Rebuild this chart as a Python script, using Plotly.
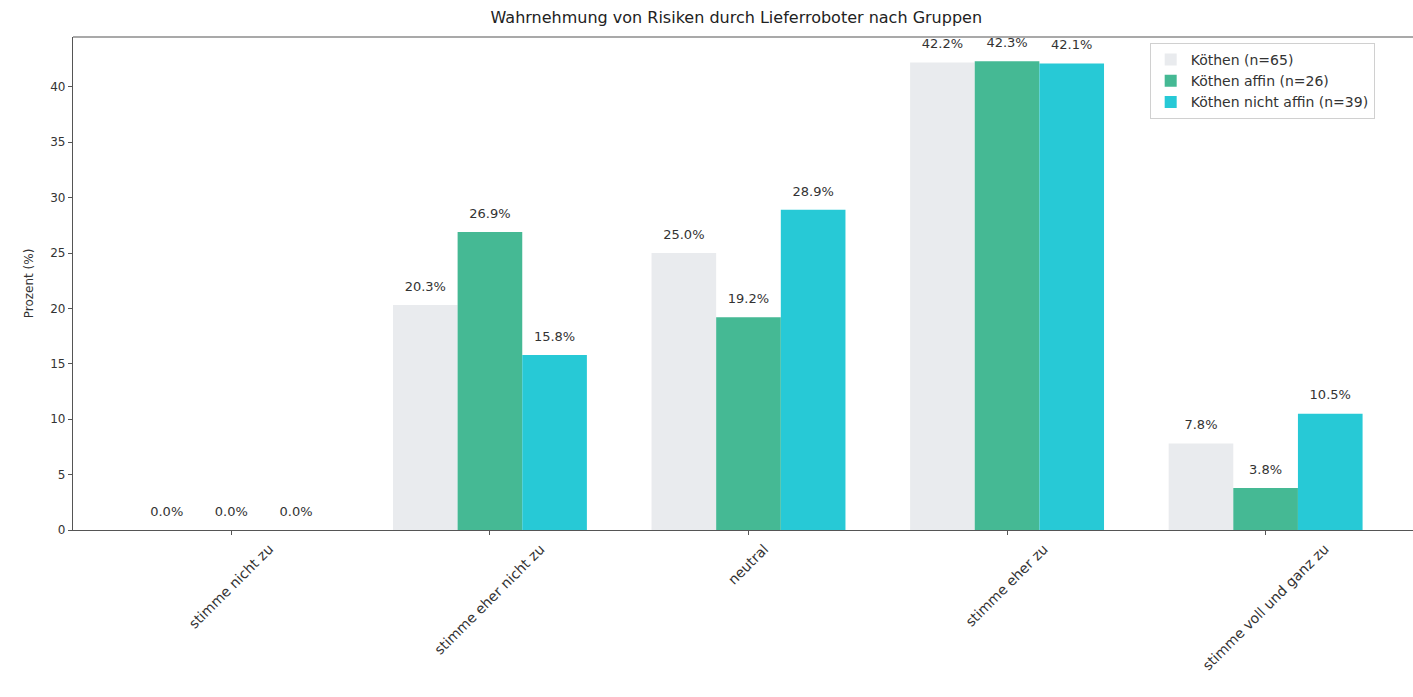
import plotly.graph_objects as go

categories = ["stimme nicht zu", "stimme eher nicht zu", "neutral", "stimme eher zu", "stimme voll und ganz zu"]
groups = ["Köthen (n=65)", "Köthen affin (n=26)", "Köthen nicht affin (n=39)"]
koethen = [0.0, 20.3, 25.0, 42.2, 7.8]
affin = [0.0, 26.9, 19.2, 42.3, 3.8]
nicht_affin = [0.0, 15.8, 28.9, 42.1, 10.5]
y_ticks = [0, 5, 10, 15, 20, 25, 30, 35, 40]

series = [koethen, affin, nicht_affin]
colors = ["#e9ebee", "#45b994", "#27c9d6"]
offsets = [-0.25, 0.0, 0.25]
width = 0.25
FONT = "DejaVu Sans"
TXT = "#333333"

fig = go.Figure()
idx = list(range(len(categories)))
for name, vals, col, off in zip(groups, series, colors, offsets):
    xs = [i + off for i in idx]
    fig.add_trace(go.Bar(x=xs, y=vals, width=width, name=name,
                         marker=dict(color=col, line=dict(width=0))))
for vals, off in zip(series, offsets):
    xs = [i + off for i in idx]
    fig.add_trace(go.Scatter(x=xs, y=[v + 1 for v in vals], mode="text",
                             text=[f"{v:.1f}%" for v in vals],
                             textposition="top center",
                             textfont=dict(family=FONT, size=13, color=TXT),
                             showlegend=False, hoverinfo="skip"))

for i, c in enumerate(categories):
    fig.add_annotation(x=i, y=0, xref="x", yref="paper", text=c, textangle=-45,
                       showarrow=False, xanchor="center", yanchor="top", yshift=-8,
                       font=dict(family=FONT, size=14, color=TXT))

fig.add_shape(type="line", xref="paper", yref="paper", x0=0, x1=1, y0=1, y1=1,
              line=dict(color="#555555", width=1.2))

fig.update_layout(
    width=1413, height=697,
    margin=dict(l=73, r=0, t=37, b=167),
    paper_bgcolor="white", plot_bgcolor="white",
    title=dict(text="Wahrnehmung von Risiken durch Lieferroboter nach Gruppen",
               x=0.495, xref="paper", xanchor="center", y=1 - 17 / 697, yanchor="middle",
               font=dict(family=FONT, size=16, color="#222222")),
    barmode="overlay",
    showlegend=True,
    legend=dict(x=0.8035, y=0.988, xanchor="left", yanchor="top",
                bgcolor="rgba(255,255,255,0.8)", bordercolor="#d0d0d0", borderwidth=1,
                font=dict(family=FONT, size=14, color=TXT),
                tracegroupgap=0),
    font=dict(family=FONT, size=12, color=TXT),
)
fig.update_xaxes(range=[-0.6125, 4.57], tickmode="array", tickvals=idx, ticktext=[""] * len(idx),
                 showgrid=False, zeroline=False, showline=True, linecolor="#555555", linewidth=1.2,
                 ticks="outside", ticklen=4, tickcolor="#555555")
fig.update_yaxes(range=[0, 44.5], tickmode="array", tickvals=y_ticks,
                 showgrid=False, zeroline=False, showline=True, linecolor="#555555", linewidth=1.2,
                 ticks="outside", ticklen=4, tickcolor="#555555",
                 tickfont=dict(family=FONT, size=12, color=TXT),
                 title=dict(text="Prozent (%)", font=dict(family=FONT, size=12, color=TXT), standoff=14))

fig.write_html("out.html", config={"displayModeBar": False},
               post_script="document.body.style.margin='0px';document.body.style.overflow='hidden';")
